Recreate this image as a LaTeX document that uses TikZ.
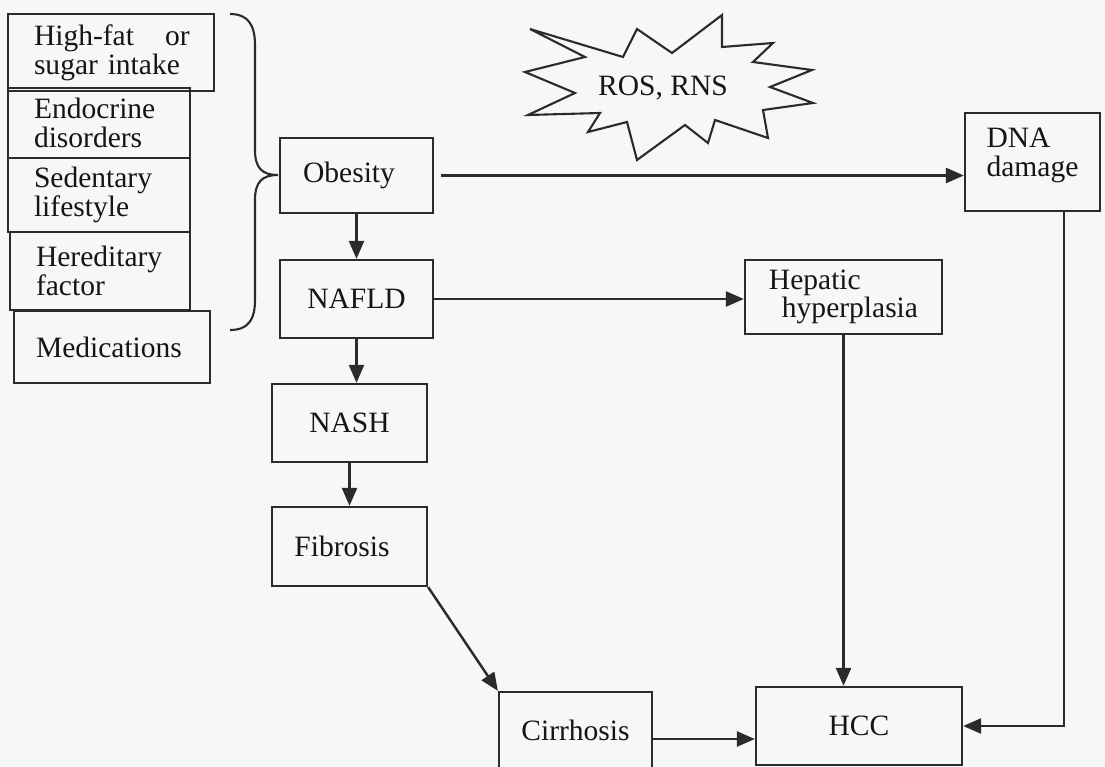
\documentclass[tikz,border=0pt]{standalone}
\usepackage{fontspec}
\setmainfont{Liberation Serif}
\usepackage{tikz}
\usetikzlibrary{arrows.meta,calc,positioning}
\definecolor{BgPaper}{HTML}{F7F7F7}
\definecolor{LineDark}{HTML}{2B2B2B}
\definecolor{TextDark}{HTML}{151515}

\begin{document}
\begin{tikzpicture}[
        x=0.02cm, y=-0.02cm,
        font=\fontsize{16.8}{16.4}\selectfont,
        box/.style={
            draw=LineDark,
            line width=1.3pt,
            text=TextDark,
            align=center,
            inner sep=2pt
        },
        cause/.style={box, align=left, inner xsep=0.52cm},
        farr/.style={-{Triangle[length=0.36cm, width=0.3cm]}, line width=1.4pt, draw=LineDark}
    ]
        \fill[BgPaper] (0,0) rectangle (1105,767);
        \clip (0,0) rectangle (1105,767);

        % risk factors
        \node[cause, text width=3.08cm, minimum height=1.54cm] (hifat) at (111,52.5) {\mbox{High-fat\hspace{0.62cm}or}\\sugar intake};
        \node[cause, text width=2.60cm, minimum height=1.40cm] (endo) at (99,123) {Endocrine\\disorders};
        \node[cause, text width=2.60cm, minimum height=1.48cm] (sedent) at (99,195) {Sedentary\\lifestyle};
        \node[cause, text width=2.56cm, minimum height=1.56cm] (hered) at (100,271) {Hereditary\\factor};
        \node[cause, text width=3.04cm, minimum height=1.44cm, inner xsep=0.44cm] (medic) at (112,347) {Medications};

        \draw[LineDark, line width=1.2pt] (230,14) .. controls (248,14) and (255,25) .. (255,45) -- (255,150)
            .. controls (255,168) and (262,175) .. (278,175)
            .. controls (262,175) and (255,182) .. (255,200) -- (255,300)
            .. controls (255,320) and (248,330) .. (230,330);

        % main chain
        \node[box, minimum width=3.06cm, minimum height=1.50cm] (obesity) at (356.5,175.5) {Obesity\hspace*{0.3cm}};
        \node[box, minimum width=3.06cm, minimum height=1.56cm] (nafld) at (356.5,299) {NAFLD};
        \node[box, minimum width=3.10cm, minimum height=1.56cm] (nash) at (349.5,423) {NASH};
        \node[box, minimum width=3.10cm, minimum height=1.58cm] (fibrosis) at (349.5,546.5) {Fibrosis\hspace*{0.3cm}};
        \node[box, minimum width=3.06cm, minimum height=1.52cm] (cirrhosis) at (575.5,730) {Cirrhosis};
        \node[box, minimum width=4.12cm, minimum height=1.56cm] (hcc) at (859,726) {HCC};
        \node[box, align=left, minimum width=3.94cm, minimum height=1.48cm] (hepatic) at (843.5,297) {Hepatic\\\hspace*{0.26cm}hyperplasia};
        \node[box, align=left, minimum width=2.70cm, minimum height=1.96cm] (dna) at (1032.5,162) {DNA\\damage\rule[-0.4cm]{0pt}{0pt}};

        \node[text=TextDark] (ros) at (663,88) {ROS, RNS};
        \draw[LineDark, line width=1.2pt, line join=miter]
            (530,29) -- (623,57) -- (637,29) -- (672,53) -- (722,15) -- (722,47) -- (773,43) -- (753,62)
            -- (812,70) -- (770,87) -- (813,103) -- (763,110) -- (768,138) -- (715,120) -- (708,143)
            -- (685,125) -- (637,160) -- (627,122) -- (588,132) -- (600,113) -- (528,115) -- (575,93)
            -- (525,72) -- (585,57) -- cycle;

        \draw[farr] ([xshift=0.14cm]obesity.east) -- (obesity.east -| dna.west);
        \draw[farr] (obesity) -- (nafld);
        \draw[farr] (nafld.east) -- (nafld.east -| hepatic.west);
        \draw[farr] (nafld.south) -- (nafld.south |- nash.north);
        \draw[farr] (nash) -- (fibrosis);
        \draw[farr] (fibrosis.south east) -- (cirrhosis.north west);
        \coordinate (cirout) at ($(cirrhosis.east)+(0,9)$);
        \draw[farr] (cirout) -- (cirout -| hcc.west);
        \draw[farr] (hepatic.south) -- (hepatic.south |- hcc.north);
        \coordinate (dnaout) at ($(dna.south)+(31.5,0)$);
        \draw[farr] (dnaout) |- (hcc.east);
    \end{tikzpicture}
\end{document}
